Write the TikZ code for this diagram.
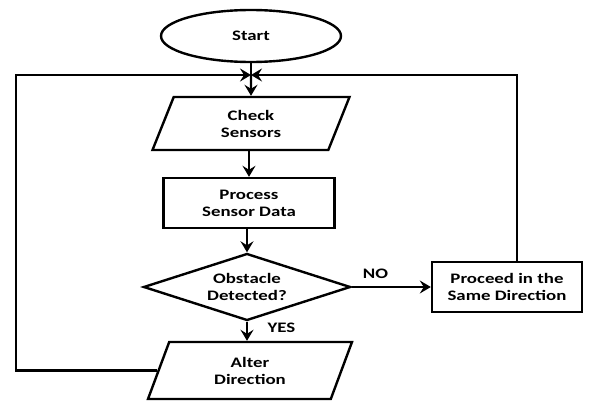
\documentclass[tikz,border=0pt]{standalone}
\usepackage{fontspec}
\setmainfont{Carlito}[FakeStretch=1.3]
\usetikzlibrary{shapes.geometric,arrows.meta}

\begin{document}
\begin{tikzpicture}[x=1pt, y=-1pt, line width=2.4pt,
    every node/.style={font=\fontsize{14.5}{17}\selectfont\bfseries, align=center},
    flow/.style={-{Stealth[length=11pt, width=13pt, inset=4pt]}},
    iobox/.style={trapezium, draw, trapezium left angle=58, trapezium right angle=122,
      trapezium stretches body, inner xsep=2pt}]
  \useasboundingbox (0,0) rectangle (605,401);
  \node[ellipse, draw, minimum width=180pt, minimum height=52pt] (start) at (251,36) {Start};
  \coordinate (join) at (251,75);
  \coordinate (backL) at (16,75);
  \coordinate (backR) at (517,75);
  \node[iobox, minimum width=197pt, minimum height=53pt] (check) at (251,123.5) {Check\\Sensors};
  \node[rectangle, draw, minimum width=171pt, minimum height=50pt] (proc) at (249,203) {Process\\Sensor Data};
  \node[diamond, draw, shape aspect=3, minimum width=207pt, minimum height=67pt, inner sep=0pt] (obst) at (247,287) {Obstacle\\Detected?};
  \node[rectangle, draw, minimum width=150pt, minimum height=50pt] (same) at (507,287) {Proceed in the\\Same Direction};
  \node[iobox, minimum width=204pt, minimum height=57pt] (alter) at (250,370.5) {Alter\\Direction};
  \draw (start) -- (join);
  \draw[flow] (join) -- (check);
  \draw[flow] (check.south -| proc) -- (proc);
  \draw[flow] (proc.south -| obst) -- (obst);
  \draw[flow] (obst) -- node[above=4pt, pos=0.3] (no) {NO} (same);
  \draw[flow] (obst.south) -- node[right=16pt, pos=0.3] (yes) {YES} (alter.north -| obst);
  \draw[flow] (same.north -| backR) -- (backR) -- (join);
  \draw[flow] (alter.west) -| (backL) -- (join);
\end{tikzpicture}
\end{document}
